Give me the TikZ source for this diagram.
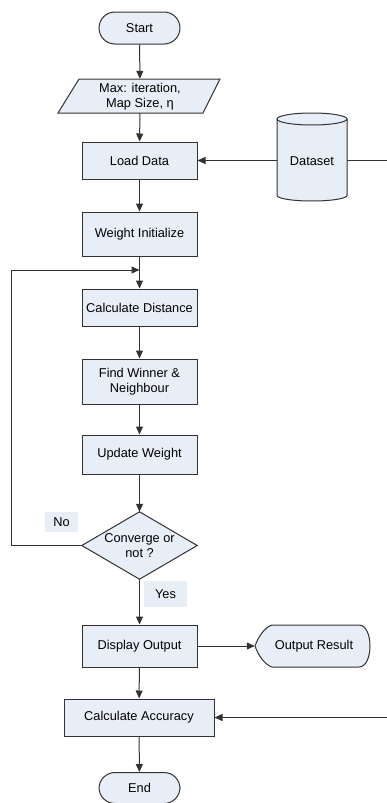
\documentclass[tikz,border=0pt]{standalone}
\usepackage{fontspec}
\setmainfont{Liberation Sans}
\usetikzlibrary{arrows.meta}
\definecolor{boxfill}{RGB}{232,238,247}
\definecolor{linecol}{RGB}{50,50,50}
\begin{document}
\begin{tikzpicture}[x=1pt,y=-1pt,
  font=\fontsize{12.8}{15.5}\selectfont,
  base/.style={inner sep=0pt, align=center, text=black},
  proc/.style={base, draw=linecol, line width=1pt, fill=boxfill, minimum height=37pt},
  term/.style={proc, rounded corners=16pt, minimum width=81pt, minimum height=32pt},
  ghost/.style={base},
  lab/.style={base, fill=boxfill},
  conn/.style={draw=linecol, line width=1pt, -{Triangle[length=8pt,width=7pt]}},
  plain/.style={draw=linecol, line width=1pt},
  outline/.style={draw=linecol, line width=1pt, fill=boxfill}
]
\useasboundingbox (0,0) rectangle (387,803);

% Start
\node[term] (st) at (139.5,28) {Start};

% parameters parallelogram
\node[ghost, minimum width=145pt, minimum height=34pt] (par) at (140,96) {};
\path[outline] (79,79) -- (220,79) -- (203,113) -- (58,113) -- cycle;
\node[base] at (140,96.5) {Max: iteration,\\Map Size, η};

% Load data
\node[proc, minimum width=115pt] (ld) at (139.5,160.5) {Load Data};

% Dataset cylinder
\node[ghost, minimum width=70pt, minimum height=82pt] (ds) at (312,160.5) {};
\path[outline] (277,119) -- (277,195.5) arc[start angle=180, end angle=360, x radius=35, y radius=-5.5] -- (347,119) arc[start angle=0, end angle=180, x radius=35, y radius=-6] -- cycle;
\path[plain] (277,119) arc[start angle=180, end angle=360, x radius=35, y radius=-6];
\node[base] at (312,161) {Dataset};

% Weight initialize
\node[proc, minimum width=115pt, minimum height=44pt] (wi) at (139.5,234) {Weight Initialize};
\coordinate (j) at (139.5,270);

% Calculate distance
\node[proc, minimum width=115pt] (cd) at (139.5,307.5) {Calculate Distance};

% Find winner
\node[proc, minimum width=115pt, minimum height=45pt] (fw) at (139.5,381.5) {Find Winner \&\\Neighbour};

% Update weight
\node[proc, minimum width=115pt, minimum height=39pt] (uw) at (139.5,454.5) {Update Weight};

% Decision
\node[ghost, minimum width=115pt, minimum height=67pt] (cv) at (139.5,545.5) {};
\path[outline] (cv.north) -- (cv.east) -- (cv.south) -- (cv.west) -- cycle;
\node[base] at (139.5,545.5) {Converge or\\not ?};

% labels
\node[lab, minimum width=33pt, minimum height=20pt] (no) at (61.5,522) {No};
\node[lab, minimum width=43pt, minimum height=26pt] (yes) at (165.5,594) {Yes};

% Display output
\node[proc, minimum width=115pt, minimum height=42pt] (dop) at (139.5,646) {Display Output};

% Output result (display shape)
\node[ghost, minimum width=115pt, minimum height=42pt] (or) at (312.5,646) {};
\path[outline] (272,625) .. controls (265,627) and (258,637) .. (255,646)
  .. controls (258,655) and (265,665) .. (272,667) -- (359,667)
  .. controls (366,667) and (370,657) .. (370,646)
  .. controls (370,635) and (366,625) .. (359,625) -- cycle;
\node[base] at (314,646) {Output Result};

% Calculate accuracy
\node[proc, minimum width=150pt] (ca) at (139,717.5) {Calculate Accuracy};

% End
\node[term, minimum height=31pt] (en) at (139.5,788) {End};

% connectors
\draw[conn] (st) -- (par);
\draw[conn] (par) -- (ld);
\draw[conn] (ds) -- (ld);
\draw[conn] (ld) -- (wi);
\draw[conn] (wi) -- (cd);
\draw[conn] (cv.west) -- (11,545.5) |- (j);
\draw[conn] (cd) -- (fw);
\draw[conn] (fw) -- (uw);
\draw[conn] (uw) -- (cv.north);
\draw[conn] (cv.south) -- (dop);
\draw[conn] (dop) -- (or.west);
\draw[conn] (dop) -- (ca);
\draw[conn] (ca) -- (en);
\draw[conn] (ds.east) -- (389,160.5) |- (ca.east);
\end{tikzpicture}
\end{document}
